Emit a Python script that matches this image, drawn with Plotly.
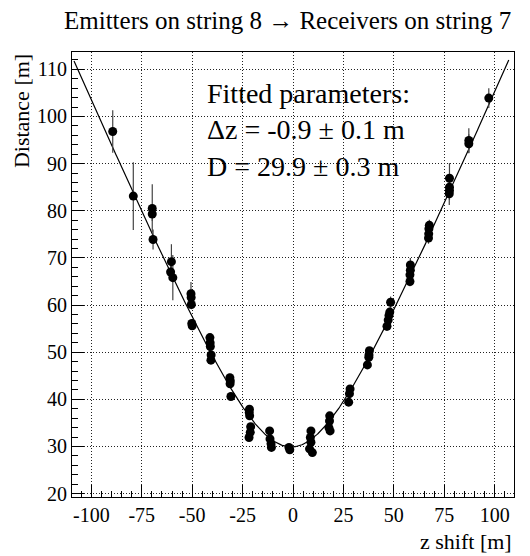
import numpy as np
import plotly.graph_objects as go

# ---- data ----
z_shift = [-89.4, -79.2, -69.8, -69.8, -69.4, -60.3, -60.7, -59.6,
           -50.6, -50.5, -50.4, -50.2, -50.0,
           -41.2, -41.1, -41.0, -40.6, -40.7,
           -31.3, -31.1, -31.2, -30.8,
           -21.6, -21.7, -21.5, -21.0, -21.2, -21.8,
           -11.6, -11.4, -10.9, -10.7,
           -2.0, -1.6,
           8.9, 8.6, 8.9, 8.2, 9.6,
           18.2, 18.1, 17.8, 18.4,
           28.3, 28.0, 27.6,
           37.9, 37.7, 37.6, 36.9,
           48.4, 48.0, 47.6, 47.2, 46.6,
           58.2, 58.2, 58.0, 58.0,
           67.6, 67.4, 67.3, 67.2,
           77.6, 77.6, 77.6, 77.5,
           87.2, 87.2,
           97.1]
distance = [96.8, 83.1, 80.5, 79.3, 73.9, 69.2, 67.0, 65.8,
            62.4, 61.6, 60.1, 56.1, 55.6,
            53.1, 52.0, 51.2, 49.4, 48.3,
            44.6, 43.9, 43.3, 40.6,
            37.9, 37.2, 36.5, 34.2, 33.0, 31.9,
            33.3, 31.6, 30.6, 29.8,
            29.8, 29.3,
            33.3, 31.9, 30.9, 29.5, 28.7,
            36.5, 35.4, 34.0, 33.3,
            42.2, 41.2, 39.4,
            50.3, 49.4, 48.9, 47.3,
            60.6, 58.5, 57.8, 56.8, 55.5,
            68.5, 67.4, 66.4, 65.0,
            76.9, 76.2, 75.1, 74.2,
            86.9, 85.0, 84.3, 83.6,
            94.9, 94.2,
            103.9]
distance_err = [4.5, 7.2, 5.1, 1.5, 2.1, 3.7, 1.5, 4.8,
                2.5, 1.0, 1.0, 0.8, 0.8,
                0.8, 0.8, 0.8, 0.8, 0.8,
                0.8, 0.8, 0.8, 0.8,
                0.8, 0.8, 0.8, 0.8, 0.8, 0.6,
                0.8, 0.8, 0.8, 0.8,
                0.6, 0.6,
                0.8, 0.8, 0.8, 0.8, 0.8,
                0.8, 0.8, 0.8, 0.8,
                0.8, 0.8, 0.8,
                0.8, 0.8, 0.8, 0.8,
                1.2, 1.0, 1.0, 1.0, 1.0,
                1.5, 1.0, 1.0, 1.0,
                1.2, 1.2, 1.2, 1.2,
                3.2, 2.0, 2.0, 2.4,
                2.6, 2.0,
                2.1]

# fitted parameters shown on the chart
fit_dz = -0.9
fit_D = 29.9
fit_range = [-108.6, 107.0]

x_ticks = [-100, -75, -50, -25, 0, 25, 50, 75, 100]
y_ticks = [20, 30, 40, 50, 60, 70, 80, 90, 100, 110]

title_text = "Emitters on string 8 \u2192 Receivers on string 7"
x_title = "z shift [m]"
y_title = "Distance [m]"
fit_text = ["Fitted parameters:",
            "\u0394z = -0.9 \u00b1 0.1 m",
            "D = 29.9 \u00b1 0.3 m"]

# ---- figure ----
SERIF = "Liberation Serif, Times New Roman, serif"

zf = np.linspace(fit_range[0], fit_range[1], 600)
df = np.sqrt(fit_D ** 2 + (zf - fit_dz) ** 2)

fig = go.Figure()
fig.add_trace(go.Scatter(
    x=zf, y=df, mode="lines",
    line=dict(color="black", width=1.2),
    hoverinfo="skip", showlegend=False))
fig.add_trace(go.Scatter(
    x=z_shift, y=distance, mode="markers",
    marker=dict(color="black", size=9, line=dict(width=0)),
    error_y=dict(type="data", array=distance_err, width=0,
                 thickness=1.2, color="#444"),
    showlegend=False))

axis_common = dict(
    showline=True, linecolor="black", linewidth=1, mirror=True,
    ticks="inside", tickcolor="black", tickwidth=1, ticklen=12,
    showgrid=True, gridcolor="#222", gridwidth=1, griddash="1px,2px",
    zeroline=False,
    tickfont=dict(family=SERIF, size=20, color="black"),
)

fig.update_xaxes(
    range=[-109.6, 109.6], tickvals=x_ticks, ticktext=[str(v) for v in x_ticks],
    minor=dict(dtick=5, tick0=0, ticks="inside", ticklen=6, tickcolor="black",
               showgrid=False),
    **axis_common)
fig.update_yaxes(
    range=[19.28, 113.67], tickvals=y_ticks, ticktext=[str(v) for v in y_ticks],
    minor=dict(dtick=2, tick0=0, ticks="inside", ticklen=6, tickcolor="black",
               showgrid=False),
    **axis_common)

# white box behind fit-parameter text (hides the grid)
fig.add_shape(type="rect", xref="paper", yref="paper",
              x0=0.2506, x1=0.803, y0=0.7004, y1=0.9476,
              fillcolor="white", line=dict(width=0), layer="between")

fig.add_annotation(
    text="<br>".join(fit_text), xref="paper", yref="paper",
    x=0.301, y=0.946, xanchor="left", yanchor="top", align="left",
    showarrow=False, font=dict(family=SERIF, size=28, color="black"))

fig.add_annotation(
    text=title_text, xref="paper", yref="paper",
    x=0.998, y=1.036, xanchor="right", yanchor="bottom",
    showarrow=False, font=dict(family=SERIF, size=25, color="black"))

fig.add_annotation(
    text=y_title, xref="paper", yref="paper", textangle=-90,
    x=-0.148, y=1.0, xanchor="left", yanchor="top",
    showarrow=False, font=dict(family=SERIF, size=22, color="black"))

fig.add_annotation(
    text=x_title, xref="paper", yref="paper",
    x=1.0, y=-0.133, xanchor="right", yanchor="bottom",
    showarrow=False, font=dict(family=SERIF, size=22, color="black"))

fig.update_layout(
    width=530, height=556,
    margin=dict(l=72, r=16, t=52, b=59),
    paper_bgcolor="white", plot_bgcolor="white",
    showlegend=False,
)

fig.write_html("out.html",
               config={"displayModeBar": False, "staticPlot": True},
               post_script="document.body.style.margin='0px';"
                           "document.body.style.overflow='hidden';")
